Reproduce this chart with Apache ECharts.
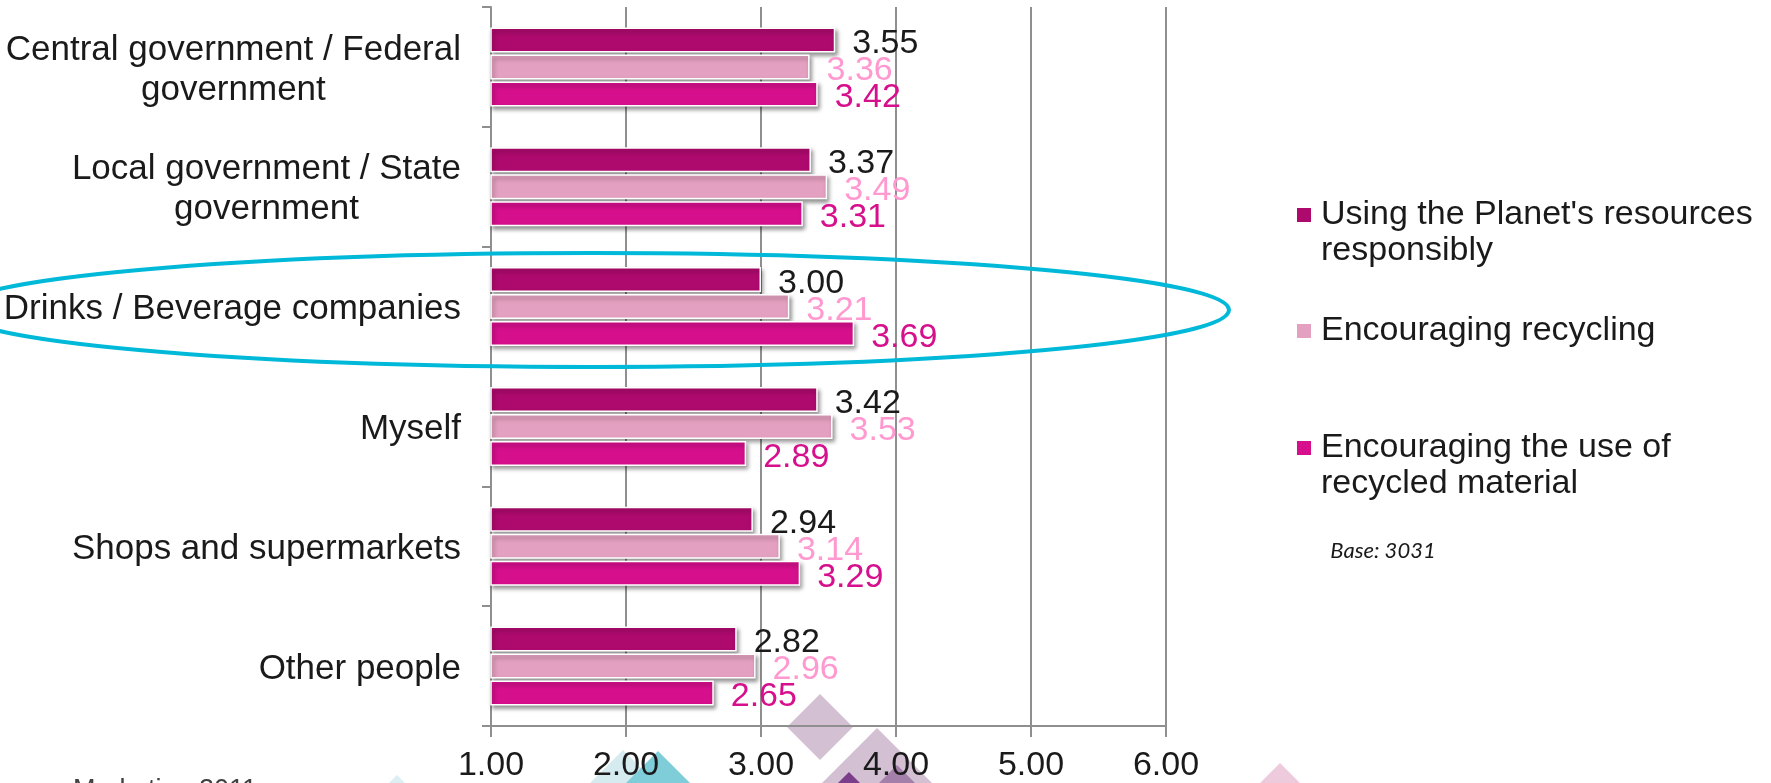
<!DOCTYPE html>
<html>
<head>
<meta charset="utf-8">
<script src="https://cdn.jsdelivr.net/npm/echarts@6/dist/echarts.min.js"></script>
<style>
  html, body { margin: 0; padding: 0; background: #fff; }
  #mychart { width: 1771px; height: 783px; }
</style>
</head>
<body>
<div id="mychart"></div>
<script>
// categories, top to bottom
var categories = [
  'Central government / Federal\ngovernment',
  'Local government / State\ngovernment',
  'Drinks / Beverage companies',
  'Myself',
  'Shops and supermarkets',
  'Other people'
];
var seriesNames = [
  "Using the Planet's resources responsibly",
  'Encouraging recycling',
  'Encouraging the use of recycled material'
];
var legendLabels = [
  "Using the Planet's resources\nresponsibly",
  'Encouraging recycling',
  'Encouraging the use of\nrecycled material'
];
var resourcesData = [3.55, 3.37, 3.00, 3.42, 2.94, 2.82];
var recyclingData = [3.36, 3.49, 3.21, 3.53, 3.14, 2.96];
var recycledMatData = [3.42, 3.31, 3.69, 2.89, 3.29, 2.65];
var xTicks = [1, 2, 3, 4, 5, 6];

var barColors = ['#AE0A6E', '#E4A0C0', '#D60F8C'];
var labelColors = ['#1a1a1a', '#FF99CF', '#D60F8C'];
var font = '"Liberation Sans", Arial, sans-serif';

var myChart = echarts.init(document.getElementById('mychart'));

function makeSeries(i, data) {
  return {
    name: seriesNames[i],
    type: 'bar',
    data: data,
    barWidth: 25,
    barGap: '8%',
    itemStyle: {
      color: barColors[i],
      borderColor: '#fff',
      borderWidth: 1.5,
      shadowBlur: 4,
      shadowColor: 'rgba(0,0,0,0.4)',
      shadowOffsetX: 2,
      shadowOffsetY: 3
    },
    label: {
      show: true,
      position: 'right',
      distance: 17,
      offset: [0, 4],
      fontSize: 34,
      fontFamily: font,
      color: labelColors[i],
      formatter: function (p) { return p.value.toFixed(2); }
    }
  };
}

// square marker at the top of the icon box, so it sits level with the first text line
function legendIcon(h) {
  return 'path://M0,0L14,0L14,14L0,14Z M19,' + h + 'L19.01,' + h + 'L19,' + (h + 0.01) + 'Z';
}

// one legend per item so each can sit in its own slot
function makeLegend(i, top, twoLines) {
  var h = twoLines ? 50 : 14;
  return {
    orient: 'vertical',
    left: 1292,
    top: top,
    data: [seriesNames[i]],
    itemWidth: 19,
    itemHeight: h,
    icon: legendIcon(h),
    selectedMode: false,
    itemStyle: { borderWidth: 0, shadowBlur: 0, shadowOffsetX: 0, shadowOffsetY: 0 },
    formatter: function () { return legendLabels[i]; },
    textStyle: {
      fontSize: 34,
      fontFamily: font,
      color: '#1a1a1a',
      lineHeight: 36
    }
  };
}

// background decoration shapes at the bottom of the slide
function diamond(cx, cy, h, color) {
  return {
    type: 'polygon',
    silent: true,
    z: -10,
    shape: { points: [[cx, cy - h], [cx + h, cy], [cx, cy + h], [cx - h, cy]] },
    style: { fill: color }
  };
}

var option = {
  backgroundColor: '#fff',
  animation: false,
  grid: { left: 491, right: 605, top: 7, bottom: 57 },
  legend: [
    makeLegend(0, 192, true),
    makeLegend(1, 308, false),
    makeLegend(2, 425, true)
  ],
  xAxis: {
    type: 'value',
    min: xTicks[0],
    max: xTicks[xTicks.length - 1],
    interval: 1,
    axisLine: { show: true, lineStyle: { color: '#8f8f8f', width: 2 } },
    axisTick: { show: true, length: 11, lineStyle: { color: '#8f8f8f', width: 2 } },
    splitLine: { show: true, lineStyle: { color: '#8f8f8f', width: 2 } },
    axisLabel: {
      margin: 23,
      fontSize: 34,
      fontFamily: font,
      color: '#1a1a1a',
      formatter: function (v) { return v.toFixed(2); }
    }
  },
  yAxis: {
    type: 'category',
    inverse: true,
    data: categories,
    axisLine: { show: true, lineStyle: { color: '#8f8f8f', width: 2 } },
    axisTick: { show: true, length: 9, lineStyle: { color: '#8f8f8f', width: 2 } },
    axisLabel: {
      margin: 30,
      padding: [6, 0, 0, 0],
      formatter: function (v) {
        return v.split('\n').map(function (l) { return '{c|' + l + '}'; }).join('\n');
      },
      rich: {
        c: { align: 'center', fontSize: 35, lineHeight: 40, fontFamily: font, color: '#1a1a1a' }
      }
    }
  },
  graphic: [
    diamond(397, 810, 35, '#DCEFF3'),
    diamond(623, 800, 50, '#D6EBF0'),
    diamond(658, 810, 59, '#80CDDA'),
    diamond(820, 727, 33, '#D3C0D3'),
    diamond(877, 798, 70, '#D3C0D3'),
    diamond(897, 800, 35, '#A47FA9'),
    diamond(849, 800, 28, '#7A3E8A'),
    diamond(1280, 810, 47, '#EECADD'),
    {
      type: 'ellipse',
      silent: true,
      z: 100,
      shape: { cx: 592, cy: 310, rx: 637, ry: 57 },
      style: { fill: null, stroke: '#00B9D9', lineWidth: 4 }
    },
    {
      type: 'text',
      x: 1383,
      y: 551,
      style: {
        text: 'Base: 3031',
        fontSize: 22,
        fontStyle: 'italic',
        fontFamily: 'Lato, "Open Sans", sans-serif',
        fill: '#1a1a1a',
        align: 'center',
        verticalAlign: 'middle'
      }
    },
    {
      type: 'text',
      x: 73,
      y: 791,
      style: {
        text: 'Marketing 2011',
        fontSize: 27,
        fontFamily: font,
        fill: '#404040',
        align: 'left',
        verticalAlign: 'middle'
      }
    }
  ],
  series: [
    makeSeries(0, resourcesData),
    makeSeries(1, recyclingData),
    makeSeries(2, recycledMatData)
  ]
};

myChart.setOption(option);
</script>
</body>
</html>
